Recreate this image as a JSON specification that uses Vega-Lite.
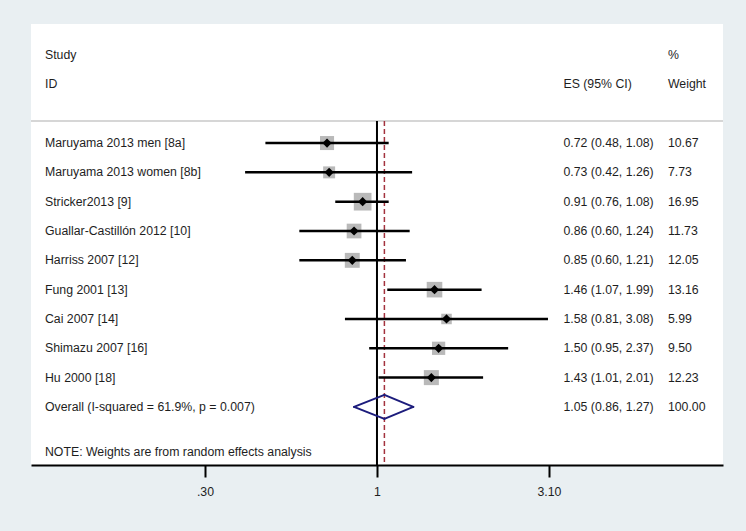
{
  "$schema": "https://vega.github.io/schema/vega-lite/v6.json",
  "width": 692,
  "height": 441,
  "autosize": {"type": "none"},
  "padding": {"left": 31, "top": 24, "right": 23, "bottom": 66},
  "background": "#e9eff2",
  "config": {
    "view": {"stroke": null, "fill": "white"},
    "text": {"font": "Liberation Sans", "fontSize": 12.3, "color": "#1e1e1e"},
    "axisX": {"domainColor": "black", "domainWidth": 2, "tickColor": "black", "tickWidth": 2, "tickSize": 12, "labelFont": "Liberation Sans", "labelFontSize": 12.3, "labelColor": "#1e1e1e", "labelPadding": 8, "grid": false, "labelFlush": false, "labelOverlap": false}
  },
  "datasets": {
    "studies": [
      {"row": 1, "kind": "study", "study": "Maruyama  2013 men [8a]", "es": 0.72, "lo": 0.48, "hi": 1.08, "ci": "0.72 (0.48, 1.08)", "weight": 10.67},
      {"row": 2, "kind": "study", "study": "Maruyama 2013 women [8b]", "es": 0.73, "lo": 0.42, "hi": 1.26, "ci": "0.73 (0.42, 1.26)", "weight": 7.73},
      {"row": 3, "kind": "study", "study": "Stricker2013 [9]", "es": 0.91, "lo": 0.76, "hi": 1.08, "ci": "0.91 (0.76, 1.08)", "weight": 16.95},
      {"row": 4, "kind": "study", "study": "Guallar-Castillón 2012 [10]", "es": 0.86, "lo": 0.60, "hi": 1.24, "ci": "0.86 (0.60, 1.24)", "weight": 11.73},
      {"row": 5, "kind": "study", "study": "Harriss 2007  [12]", "es": 0.85, "lo": 0.60, "hi": 1.21, "ci": "0.85 (0.60, 1.21)", "weight": 12.05},
      {"row": 6, "kind": "study", "study": "Fung 2001 [13]", "es": 1.46, "lo": 1.07, "hi": 1.99, "ci": "1.46 (1.07, 1.99)", "weight": 13.16},
      {"row": 7, "kind": "study", "study": "Cai 2007 [14]", "es": 1.58, "lo": 0.81, "hi": 3.08, "ci": "1.58 (0.81, 3.08)", "weight": 5.99},
      {"row": 8, "kind": "study", "study": "Shimazu  2007 [16]", "es": 1.50, "lo": 0.95, "hi": 2.37, "ci": "1.50 (0.95, 2.37)", "weight": 9.50},
      {"row": 9, "kind": "study", "study": "Hu 2000 [18]", "es": 1.43, "lo": 1.01, "hi": 2.01, "ci": "1.43 (1.01, 2.01)", "weight": 12.23},
      {"row": 10, "kind": "overall", "study": "Overall  (I-squared = 61.9%, p = 0.007)", "es": 1.05, "lo": 0.86, "hi": 1.27, "ci": "1.05 (0.86, 1.27)", "weight": 100.00}
    ],
    "one": [{}]
  },
  "data": {"name": "studies"},
  "layer": [
    {
      "transform": [{"filter": "datum.kind == 'study'"}],
      "mark": {"type": "point", "shape": "square", "filled": true, "color": "#b9b9b9", "opacity": 1},
      "encoding": {
        "x": {"field": "es", "type": "quantitative", "title": null, "scale": {"type": "log", "domain": [0.1027, 9.74], "nice": false}, "axis": {"values": [0.3226, 1, 3.1], "labelExpr": "datum.value < 0.5 ? '.30' : (datum.value < 2 ? '1' : '3.10')"}},
        "y": {"field": "row", "type": "quantitative", "axis": null, "scale": {"domain": [-3.06, 11.98], "reverse": true, "nice": false, "zero": false}},
        "size": {"field": "weight", "type": "quantitative", "legend": null, "scale": {"type": "linear", "domain": [0, 16.95], "range": [0, 313], "zero": true}}
      }
    },
    {
      "data": {"name": "one"},
      "mark": {"type": "rule", "color": "#c8c8c8", "strokeWidth": 1.5},
      "encoding": {
        "x": {"datum": 0.1027, "type": "quantitative", "title": null},
        "x2": {"datum": 9.74},
        "y": {"datum": 0.25, "type": "quantitative", "axis": null}
      }
    },
    {
      "data": {"name": "one"},
      "mark": {"type": "rule", "color": "black", "strokeWidth": 2},
      "encoding": {
        "x": {"datum": 1, "type": "quantitative", "title": null},
        "y": {"datum": 0.25, "type": "quantitative", "axis": null},
        "y2": {"datum": 11.98}
      }
    },
    {
      "transform": [{"filter": "datum.kind == 'overall'"}],
      "mark": {"type": "rule", "color": "#a3323e", "strokeWidth": 1.5, "strokeDash": [5, 3]},
      "encoding": {
        "x": {"field": "es", "type": "quantitative", "title": null},
        "y": {"datum": 0.25, "type": "quantitative", "axis": null},
        "y2": {"datum": 11.98}
      }
    },
    {
      "transform": [{"filter": "datum.kind == 'study'"}],
      "mark": {"type": "rule", "color": "black", "strokeWidth": 2.5},
      "encoding": {
        "x": {"field": "lo", "type": "quantitative", "title": null},
        "x2": {"field": "hi"},
        "y": {"field": "row", "type": "quantitative", "axis": null}
      }
    },
    {
      "transform": [{"filter": "datum.kind == 'study'"}],
      "mark": {"type": "point", "shape": "diamond", "filled": true, "color": "black", "opacity": 1, "size": 85},
      "encoding": {
        "x": {"field": "es", "type": "quantitative", "title": null},
        "y": {"field": "row", "type": "quantitative", "axis": null}
      }
    },
    {
      "transform": [{"filter": "datum.kind == 'overall'"}],
      "mark": {"type": "rule", "color": "#1c1c7c", "strokeWidth": 2, "strokeCap": "round", "y2Offset": -12},
      "encoding": {
        "x": {"field": "lo", "type": "quantitative", "title": null},
        "x2": {"field": "es"},
        "y": {"field": "row", "type": "quantitative", "axis": null},
        "y2": {"field": "row"}
      }
    },
    {
      "transform": [{"filter": "datum.kind == 'overall'"}],
      "mark": {"type": "rule", "color": "#1c1c7c", "strokeWidth": 2, "strokeCap": "round", "yOffset": -12},
      "encoding": {
        "x": {"field": "es", "type": "quantitative", "title": null},
        "x2": {"field": "hi"},
        "y": {"field": "row", "type": "quantitative", "axis": null},
        "y2": {"field": "row"}
      }
    },
    {
      "transform": [{"filter": "datum.kind == 'overall'"}],
      "mark": {"type": "rule", "color": "#1c1c7c", "strokeWidth": 2, "strokeCap": "round", "y2Offset": 12},
      "encoding": {
        "x": {"field": "hi", "type": "quantitative", "title": null},
        "x2": {"field": "es"},
        "y": {"field": "row", "type": "quantitative", "axis": null},
        "y2": {"field": "row"}
      }
    },
    {
      "transform": [{"filter": "datum.kind == 'overall'"}],
      "mark": {"type": "rule", "color": "#1c1c7c", "strokeWidth": 2, "strokeCap": "round", "yOffset": 12},
      "encoding": {
        "x": {"field": "es", "type": "quantitative", "title": null},
        "x2": {"field": "lo"},
        "y": {"field": "row", "type": "quantitative", "axis": null},
        "y2": {"field": "row"}
      }
    },
    {
      "mark": {"type": "text", "align": "left", "baseline": "middle"},
      "encoding": {
        "x": {"datum": 0.1126, "type": "quantitative", "title": null},
        "y": {"field": "row", "type": "quantitative", "axis": null},
        "text": {"field": "study"}
      }
    },
    {
      "mark": {"type": "text", "align": "left", "baseline": "middle"},
      "encoding": {
        "x": {"datum": 3.41, "type": "quantitative", "title": null},
        "y": {"field": "row", "type": "quantitative", "axis": null},
        "text": {"field": "ci"}
      }
    },
    {
      "mark": {"type": "text", "align": "left", "baseline": "middle"},
      "encoding": {
        "x": {"datum": 6.78, "type": "quantitative", "title": null},
        "y": {"field": "row", "type": "quantitative", "axis": null},
        "text": {"field": "weight", "format": ".2f"}
      }
    },
    {
      "data": {"name": "one"},
      "mark": {"type": "text", "align": "left", "baseline": "middle", "text": "Study"},
      "encoding": {
        "x": {"datum": 0.1126, "type": "quantitative", "title": null},
        "y": {"datum": -2, "type": "quantitative", "axis": null}
      }
    },
    {
      "data": {"name": "one"},
      "mark": {"type": "text", "align": "left", "baseline": "middle", "text": "ID"},
      "encoding": {
        "x": {"datum": 0.1126, "type": "quantitative", "title": null},
        "y": {"datum": -1, "type": "quantitative", "axis": null}
      }
    },
    {
      "data": {"name": "one"},
      "mark": {"type": "text", "align": "left", "baseline": "middle", "text": "ES (95% CI)"},
      "encoding": {
        "x": {"datum": 3.41, "type": "quantitative", "title": null},
        "y": {"datum": -1, "type": "quantitative", "axis": null}
      }
    },
    {
      "data": {"name": "one"},
      "mark": {"type": "text", "align": "left", "baseline": "middle", "text": "%"},
      "encoding": {
        "x": {"datum": 6.78, "type": "quantitative", "title": null},
        "y": {"datum": -2, "type": "quantitative", "axis": null}
      }
    },
    {
      "data": {"name": "one"},
      "mark": {"type": "text", "align": "left", "baseline": "middle", "text": "Weight"},
      "encoding": {
        "x": {"datum": 6.78, "type": "quantitative", "title": null},
        "y": {"datum": -1, "type": "quantitative", "axis": null}
      }
    },
    {
      "data": {"name": "one"},
      "mark": {"type": "text", "align": "left", "baseline": "middle", "text": "NOTE: Weights are from random effects analysis"},
      "encoding": {
        "x": {"datum": 0.1126, "type": "quantitative", "title": null},
        "y": {"datum": 11.55, "type": "quantitative", "axis": null}
      }
    }
  ]
}
